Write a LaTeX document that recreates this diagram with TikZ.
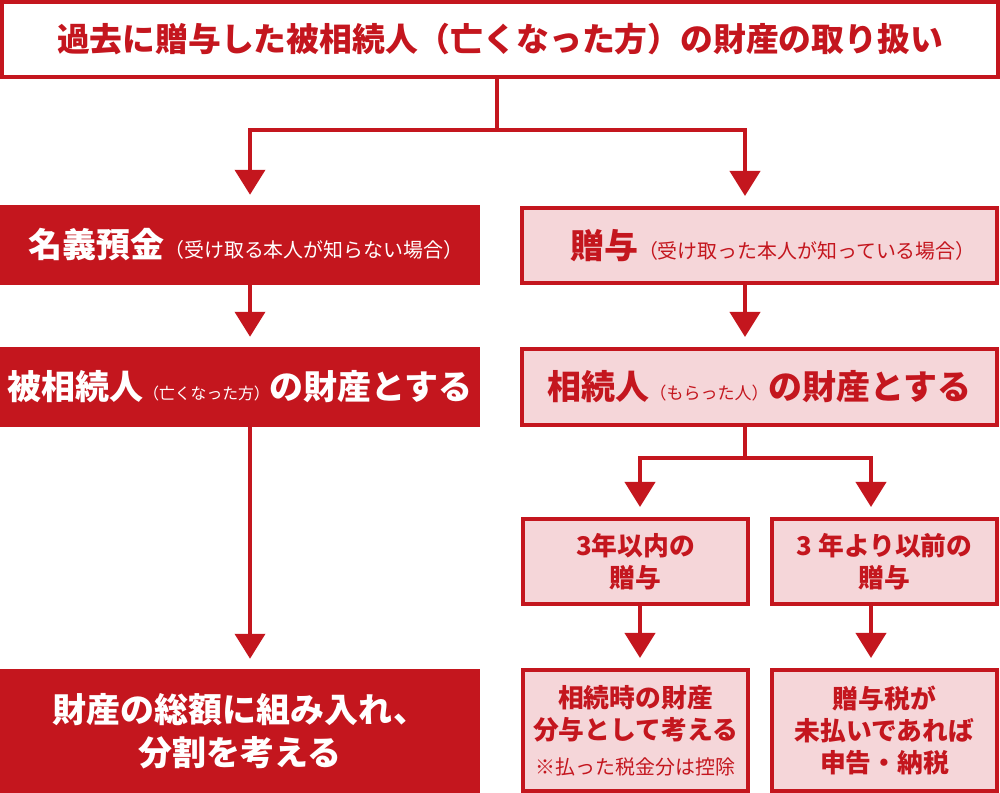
\documentclass[tikz,border=0pt]{standalone}
\usepackage{fontspec}
\setmainfont{Noto Sans CJK JP}
\usetikzlibrary{arrows.meta}
\definecolor{dred}{HTML}{C4161E}
\definecolor{pinkfill}{HTML}{F5D6D9}
\newcommand\szT{\fontsize{28pt}{34pt}\selectfont}
\newcommand\szL{\fontsize{29pt}{37pt}\selectfont}
\newcommand\szS{\fontsize{17pt}{20pt}\selectfont\mdseries}
\newcommand\szXS{\fontsize{13.5pt}{16pt}\selectfont\mdseries}
\newcommand\szR{\fontsize{14.5pt}{16pt}\selectfont\mdseries}
\newcommand\szM{\fontsize{22pt}{27.5pt}\selectfont}
\newcommand\szN{\fontsize{17pt}{20pt}\selectfont\mdseries}
\tikzset{
  every node/.style={inner sep=0pt},
  titlebox/.style={draw=dred, line width=0.12cm, fill=white, text=dred,
    minimum width=29.88cm, minimum height=2.25cm, font=\bfseries\szT},
  darkbox/.style={fill=dred, text=white, minimum width=14.4cm, align=center,
    font=\bfseries\szL},
  pinkbox/.style={draw=dred, line width=0.12cm, fill=pinkfill, text=dred, align=center},
  bigpink/.style={pinkbox, minimum width=14.25cm, font=\bfseries\szL},
  smallpink/.style={pinkbox, minimum width=6.75cm, font=\bfseries\szM},
  conn/.style={draw=dred, line width=0.12cm},
  arr/.style={conn, -{Triangle[width=0.9cm,length=0.75cm]}, shorten >=0.3cm},
}
\begin{document}
\begin{tikzpicture}[x=0.03cm,y=-0.03cm]
\useasboundingbox (0,0) rectangle (1000,793);
% title
\node[titlebox] (title) at (500,39.5) {過去に贈与した被相続人（亡くなった方）の財産の取り扱い};
% left column
\node[darkbox, minimum height=2.4cm] (meigi) at (240,245)
  {\hspace{0.35cm}名義預金{\szS （受け取る本人が知らない場合）}};
\node[darkbox, minimum height=2.4cm] (hisou) at (240,387)
  {被相続人{\szXS （亡くなった方）}の財産とする};
\node[darkbox, minimum height=3.72cm] (souga) at (240,731)
  {財産の総額に組み入れ、\\分割を考える};
% right column
\node[bigpink, minimum height=2.25cm] (zouyo) at (759.5,245.5)
  {\hspace{0.8cm}贈与{\szS （受け取った本人が知っている場合）}};
\node[bigpink, minimum height=2.28cm] (souzoku) at (759.5,387)
  {相続人{\szR （もらった人）}の財産とする};
\node[smallpink, minimum height=2.55cm] (in3) at (635.5,561.5)
  {3年以内の\\贈与};
\node[smallpink, minimum height=2.55cm] (mae3) at (884.5,561.5)
  {3 年より以前の\\贈与};
\node[smallpink, minimum height=3.63cm] (jizai) at (635.5,730.5)
  {相続時の財産\\分与として考える\\[2pt]{\szN ※払った税金分は控除}};
\node[smallpink, minimum height=3.63cm] (zeikin) at (884.5,730.5)
  {贈与税が\\未払いであれば\\申告・納税};
% connector coordinates
\coordinate (sL) at (250,130);
\coordinate (sR) at (745,130);
\coordinate (bL) at (640,458);
\coordinate (bR) at (871,458);
% connectors
\draw[arr] (title.south -| 497,0) |- (sL) -- (sL |- meigi.north);
\draw[arr] (title.south -| 497,0) |- (sR) -- (sR |- zouyo.north);
\draw[arr] (meigi.south -| sL) -- (hisou.north -| sL);
\draw[arr] (hisou.south -| sL) -- (souga.north -| sL);
\draw[arr] (zouyo.south -| sR) -- (souzoku.north -| sR);
\draw[arr] (souzoku.south -| sR) |- (bL) -- (bL |- in3.north);
\draw[arr] (souzoku.south -| sR) |- (bR) -- (bR |- mae3.north);
\draw[arr] (in3.south -| bL) -- (jizai.north -| bL);
\draw[arr] (mae3.south -| bR) -- (zeikin.north -| bR);
\end{tikzpicture}
\end{document}
